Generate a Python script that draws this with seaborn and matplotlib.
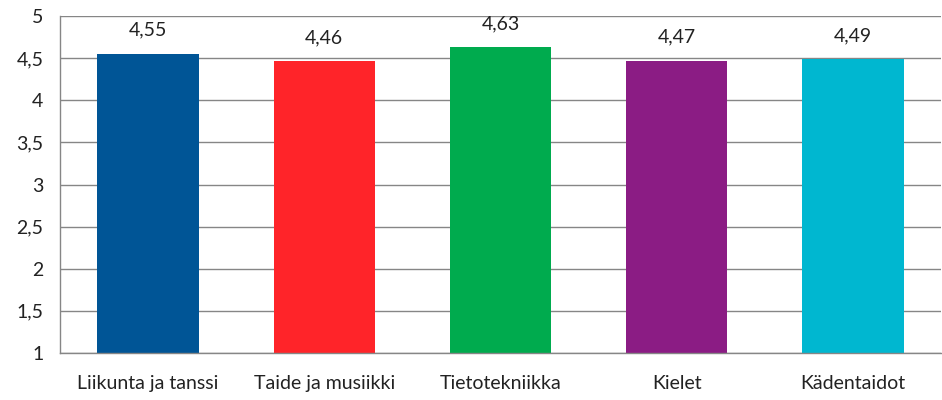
import matplotlib
matplotlib.use("Agg")
import matplotlib.pyplot as plt
import seaborn as sns
import pandas as pd

categories = ["Liikunta ja tanssi", "Taide ja musiikki", "Tietotekniikka", "Kielet", "Kädentaidot"]
values = [4.55, 4.46, 4.63, 4.47, 4.49]
colors = ["#005596", "#FF2429", "#00AB4E", "#8B1C84", "#00B7D0"]
yticks = [1, 1.5, 2, 2.5, 3, 3.5, 4, 4.5, 5]

sns.set_style("white")
plt.rcParams["font.family"] = ["Lato", "DejaVu Sans"]

df = pd.DataFrame({"cat": categories, "val": values})

fig = plt.figure(figsize=(9.42, 4.0), dpi=100)
ax = fig.add_axes([0.0637, 0.1175, 0.9353, 0.8425])
grid = "#868686"
fs = 14

sns.barplot(data=df, x="cat", y="val", hue="cat", palette=colors, width=0.575,
            legend=False, ax=ax, saturation=1, linewidth=0)
# bars start at 1
for p in ax.patches:
    h = p.get_height()
    p.set_y(1)
    p.set_height(h - 1)

ax.set_ylim(1, 5)
ax.set_xlim(-0.5, 4.5)
ax.set_yticks(yticks)
ax.set_yticklabels([f"{t:g}".replace(".", ",") for t in yticks], fontsize=fs, color="#222222")
ax.set_xticks([i + 0.5 for i in range(-1, 5)])
ax.set_xticklabels([])
ax.set_xticks(range(5), minor=True)
ax.set_xticklabels(categories, minor=True, fontsize=fs, color="#222222")
ax.tick_params(axis="x", which="minor", length=0, pad=16)
ax.tick_params(axis="x", which="major", length=7, color=grid, width=1)
ax.tick_params(axis="y", length=7, color=grid, width=1, pad=5)
ax.set_xlabel("")
ax.set_ylabel("")

ax.yaxis.grid(True, color=grid, linewidth=1)
ax.set_axisbelow(True)
for s in ["top", "right"]:
    ax.spines[s].set_visible(False)
for s in ["left", "bottom"]:
    ax.spines[s].set_color(grid)
    ax.spines[s].set_linewidth(1)

for i, v in enumerate(values):
    ax.text(i, v + 0.28, f"{v:.2f}".replace(".", ","), ha="center", va="center", fontsize=fs, color="#222222")

fig.savefig("out.png", dpi=100)
